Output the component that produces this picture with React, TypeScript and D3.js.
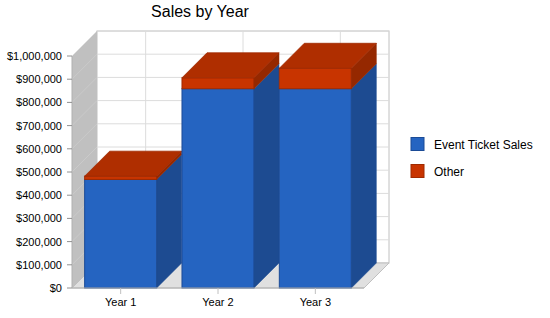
import React from "react";
import * as d3 from "d3";

const categories = ["Year 1", "Year 2", "Year 3"];
const eventTicketSales = [468000, 859000, 859000];
const other = [14000, 47000, 88000];
const yTicks = [0, 100000, 200000, 300000, 400000, 500000, 600000, 700000, 800000, 900000, 1000000];
const seriesNames = ["Event Ticket Sales", "Other"];

const W = 550;
const H = 318;
const D = 25; // depth offset
const FONT = "'Liberation Sans', Arial, sans-serif";

const colors = [
  { front: "#2564C1", side: "#1D4B91", top: "#1F55A6", stroke: "#1B4B96" },
  { front: "#C83400", side: "#952800", top: "#AF2E00", stroke: "#A02A00" },
];

export default function App() {
  const y = d3.scaleLinear().domain([0, 1000000]).range([288, 56]);
  const x = d3
    .scaleBand<string>()
    .domain(categories)
    .range([72, 364])
    .paddingInner(0.26)
    .paddingOuter(0.13);

  const x0 = 72;
  const x1 = 364;
  const y0 = y(0);
  const yTop = y(1000000);
  const fmt = (v: number) => "$" + d3.format(",")(v);

  const stacks = categories.map((c, i) => {
    const vals = [eventTicketSales[i], other[i]];
    let acc = 0;
    return vals.map((v, s) => {
      const lo = acc;
      acc += v;
      return { cat: c, s, lo, hi: acc };
    });
  });

  const poly = (pts: [number, number][]) => pts.map((p) => p.join(",")).join(" ");

  return (
    <svg
      width={W}
      height={H}
      style={{ position: "absolute", left: 0, top: 0, background: "#fff" }}
      fontFamily={FONT}
    >
      {/* Title */}
      <text x={200} y={17} textAnchor="middle" fontSize={16} fill="#000">
        Sales by Year
      </text>

      {/* Back wall */}
      <rect
        x={x0 + D}
        y={yTop - D}
        width={x1 - x0}
        height={y0 - yTop}
        fill="#fff"
        stroke="#c0c0c0"
        strokeWidth={1}
      />
      {/* back wall horizontal gridlines */}
      {yTicks.slice(1).map((t) => (
        <line
          key={"g" + t}
          x1={x0 + D}
          x2={x1 + D}
          y1={y(t) - D}
          y2={y(t) - D}
          stroke="#dcdcdc"
        />
      ))}
      {/* back wall vertical gridlines */}
      {categories.map((c) => (
        <line
          key={"v" + c}
          x1={(x(c) as number) + x.bandwidth() / 2 + D}
          x2={(x(c) as number) + x.bandwidth() / 2 + D}
          y1={yTop - D}
          y2={y0 - D}
          stroke="#dcdcdc"
        />
      ))}

      {/* Left wall */}
      <polygon
        points={poly([
          [x0, y0],
          [x0, yTop],
          [x0 + D, yTop - D],
          [x0 + D, y0 - D],
        ])}
        fill="#c0c0c0"
      />
      {yTicks.slice(1, -1).map((t) => (
        <line
          key={"lw" + t}
          x1={x0}
          x2={x0 + D}
          y1={y(t)}
          y2={y(t) - D}
          stroke="#cacaca"
        />
      ))}

      {/* Floor */}
      <polygon
        points={poly([
          [x0, y0],
          [x1, y0],
          [x1 + D, y0 - D],
          [x0 + D, y0 - D],
        ])}
        fill="#e0e0e0"
        stroke="#c0c0c0"
      />

      {/* Bars */}
      {stacks.map((segs, i) => {
        const bx = x(categories[i]) as number;
        const bw = x.bandwidth();
        const last = segs[segs.length - 1];
        return (
          <g key={"b" + i}>
            {segs.map((sg) => {
              const c = colors[sg.s];
              const yl = y(sg.lo);
              const yh = y(sg.hi);
              return (
                <g key={"s" + sg.s}>
                  <rect
                    x={bx}
                    y={yh}
                    width={bw}
                    height={yl - yh}
                    fill={c.front}
                    stroke={c.stroke}
                    strokeWidth={1}
                  />
                  <polygon
                    points={poly([
                      [bx + bw, yl],
                      [bx + bw, yh],
                      [bx + bw + D, yh - D],
                      [bx + bw + D, yl - D],
                    ])}
                    fill={c.side}
                    stroke={c.side}
                    strokeWidth={0.5}
                  />
                </g>
              );
            })}
            <polygon
              points={poly([
                [bx, y(last.hi)],
                [bx + bw, y(last.hi)],
                [bx + bw + D, y(last.hi) - D],
                [bx + D, y(last.hi) - D],
              ])}
              fill={colors[last.s].top}
              stroke={colors[last.s].stroke}
              strokeWidth={0.8}
            />
          </g>
        );
      })}

      {/* Axes */}
      <line x1={x0} x2={x0} y1={yTop} y2={y0} stroke="#b0b0b0" />
      <line x1={x0} x2={x1} y1={y0} y2={y0} stroke="#b0b0b0" />
      {yTicks.map((t) => (
        <g key={"yt" + t}>
          <line x1={x0 - 5} x2={x0} y1={y(t)} y2={y(t)} stroke="#909090" />
          <text x={62} y={y(t) + 4} textAnchor="end" fontSize={11} fill="#000">
            {fmt(t)}
          </text>
        </g>
      ))}
      {categories.map((c) => {
        const cx = (x(c) as number) + x.bandwidth() / 2;
        return (
          <g key={"xt" + c}>
            <line x1={cx} x2={cx} y1={y0} y2={y0 + 6} stroke="#c0c0c0" />
            <text x={cx} y={306} textAnchor="middle" fontSize={11} fill="#000">
              {c}
            </text>
          </g>
        );
      })}

      {/* Legend */}
      {seriesNames.map((n, i) => (
        <g key={"l" + n} transform={`translate(411,${137.5 + i * 27})`}>
          <rect width={13} height={13} fill={colors[i].front} stroke={colors[i].stroke} />
          <text x={23} y={11.5} fontSize={12} fill="#000">
            {n}
          </text>
        </g>
      ))}
    </svg>
  );
}
